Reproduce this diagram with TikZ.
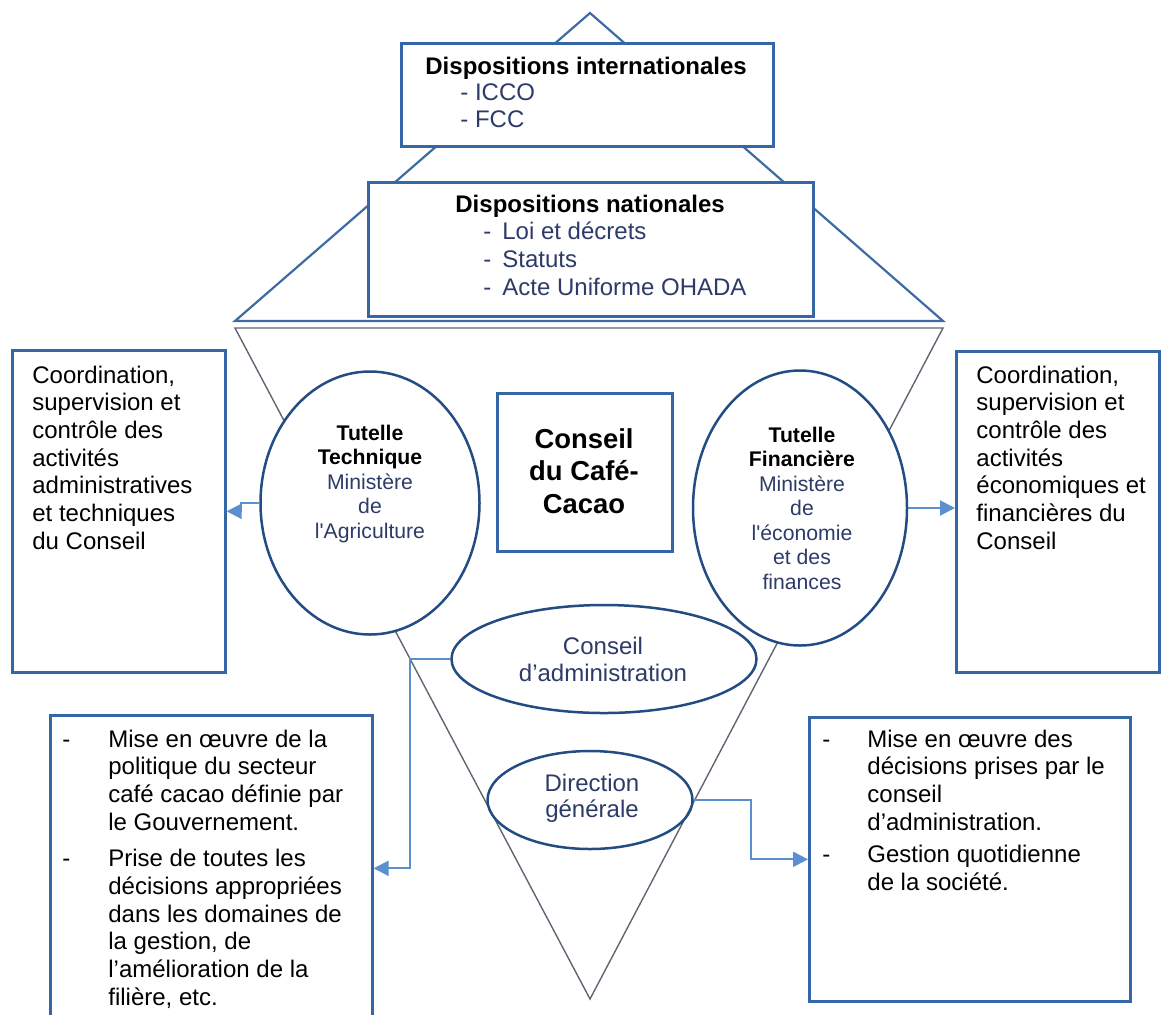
\documentclass[tikz,border=0pt]{standalone}
\usepackage{xcolor}
\usepackage{fontspec}
\setmainfont{Liberation Sans}[Ligatures=TeXOff]
\usetikzlibrary{shapes.geometric,arrows.meta}
\definecolor{boxblue}{HTML}{3566A5}
\definecolor{ovalblue}{HTML}{234C82}
\definecolor{inkblue}{HTML}{2D3B68}
\definecolor{linkblue}{HTML}{5B8FCF}
\definecolor{pyrline}{HTML}{3D6BA3}
\definecolor{coneline}{HTML}{5F6672}

\begin{document}
\begin{tikzpicture}[x=0.5pt,y=-0.5pt,
  box/.style={draw=boxblue,line width=1.3pt,fill=white,inner sep=0pt,anchor=north west},
  oval/.style={ellipse,draw=ovalblue,line width=1.25pt,inner sep=0pt},
  txt/.style={inner sep=0pt,anchor=base west,font=\fontsize{12}{13.85}\selectfont},
  ovaltxt/.style={inner sep=0pt,anchor=base,text=inkblue,font=\fontsize{10.6}{12.25}\selectfont},
  link/.style={draw=linkblue,line width=1pt,-{Triangle[length=7.5pt,width=7.5pt]}}]
\useasboundingbox (0,0) rectangle (1161,1014);
% pyramid on top, cone below
\draw[pyrline,line width=1.1pt] (590,13) -- (235,321) -- (943,321) -- cycle;
\draw[coneline,line width=0.7pt] (235,328) -- (943,328) -- (590,999) -- cycle;

\node (intl) [box,minimum width=186pt,minimum height=51.5pt] at (400,42) {};
\node (nat) [box,minimum width=222.5pt,minimum height=67pt] at (367,181) {};
\node (coordL) [box,minimum width=106.5pt,minimum height=161pt] at (11,349) {};
\node (coordR) [box,minimum width=101.5pt,minimum height=160.5pt] at (955,350) {};
\node (ccc) [box,minimum width=87.5pt,minimum height=79pt] at (496,392) {};
\node (lowL) [box,minimum width=161pt,minimum height=153pt] at (49,714) {};
\node (lowR) [box,minimum width=160.5pt,minimum height=142pt] at (808,716) {};

\node (tt) [oval,fill=white,minimum width=109.5pt,minimum height=131.5pt] at (370,503) {};
\node (tf) [oval,fill=white,minimum width=107pt,minimum height=137.5pt] at (800,508) {};
\node (ca) [oval,fill=white,minimum width=152.5pt,minimum height=54pt] at (604,659) {};
\node (dg) [oval,minimum width=102.5pt,minimum height=49pt] at (590,800) {};

% texts
\node (intlT) [txt] at (425,74) {\begin{tabular}[t]{@{}l@{}}
  \textbf{Dispositions internationales}\\[-0.4pt]
  \hspace{17.5pt}\color{inkblue}- ICCO\\[-0.4pt]
  \hspace{17.5pt}\color{inkblue}- FCC\end{tabular}};
\node (natT) [txt] at (455,212) {\begin{tabular}[t]{@{}l@{}}
  \textbf{Dispositions nationales}\\
  \hspace{14pt}\color{inkblue}-\hspace{5.5pt}Loi et décrets\\
  \hspace{14pt}\color{inkblue}-\hspace{5.5pt}Statuts\\
  \hspace{14pt}\color{inkblue}-\hspace{5.5pt}Acte Uniforme OHADA\end{tabular}};
\node (coordLT) [txt] at (32,383) {\begin{tabular}[t]{@{}l@{}}
  Coordination,\\ supervision et\\ contrôle des\\ activités\\
  administratives\\ et techniques\\ du Conseil\end{tabular}};
\node (coordRT) [txt] at (976,383) {\begin{tabular}[t]{@{}l@{}}
  Coordination,\\ supervision et\\ contrôle des\\ activités\\
  économiques et\\ financières du\\ Conseil\end{tabular}};
\node (cccT) [inner sep=0pt,anchor=base,font=\bfseries\fontsize{13.7}{16.25}\selectfont]
  at (584,448) {\begin{tabular}[t]{@{}c@{}}Conseil\\ du Café-\\ Cacao\end{tabular}};
\node (ttT) [ovaltxt] at (370,440) {\begin{tabular}[t]{@{}c@{}}
  \textcolor{black}{\textbf{Tutelle}}\\ \textcolor{black}{\textbf{Technique}}\\
  Ministère\\ de\\ l'Agriculture\end{tabular}};
\node (tfT) [ovaltxt] at (802,442) {\begin{tabular}[t]{@{}c@{}}
  \textcolor{black}{\textbf{Tutelle}}\\ \textcolor{black}{\textbf{Financière}}\\
  Ministère\\ de\\ l'économie\\ et des\\ finances\end{tabular}};
\node (caT) [ovaltxt,font=\fontsize{12}{13.5}\selectfont] at (603,654)
  {\begin{tabular}[t]{@{}c@{}}Conseil\\ d’administration\end{tabular}};
\node (dgT) [ovaltxt,font=\fontsize{12}{13}\selectfont] at (592,791)
  {\begin{tabular}[t]{@{}c@{}}Direction\\ générale\end{tabular}};
\node (lowLT) [txt] at (62,747) {\begin{tabular}[t]{@{}p{23pt}@{}l@{}}
  - & Mise en œuvre de la\\
    & politique du secteur\\
    & café cacao définie par\\
    & le Gouvernement.\\[4.5pt]
  - & Prise de toutes les\\
    & décisions appropriées\\
    & dans les domaines de\\
    & la gestion, de\\
    & l’amélioration de la\\
    & filière, etc.\end{tabular}};
\node (lowRT) [txt] at (822,747) {\begin{tabular}[t]{@{}p{22.5pt}@{}l@{}}
  - & Mise en œuvre des\\
    & décisions prises par le\\
    & conseil\\
    & d’administration.\\[2.5pt]
  - & Gestion quotidienne\\
    & de la société.\end{tabular}};

% connectors
\draw[link] (tt.west) -- ++(-18,0) |- (coordL.east);
\draw[link] (tf.east) -- (tf.east -| coordR.west);
\draw[link] (ca.west) -- ++(-40,0) |- (lowL.east);
\draw[link] (dg.east) -- ++(57,0) |- (lowR.west);
\end{tikzpicture}
\end{document}
